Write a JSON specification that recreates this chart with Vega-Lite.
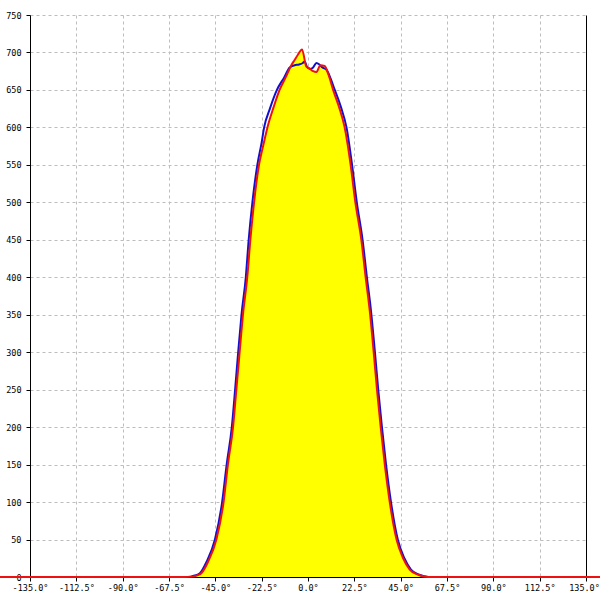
{
  "$schema": "https://vega.github.io/schema/vega-lite/v6.json",
  "width": 556,
  "height": 562,
  "autosize": {"type": "none"},
  "padding": {"left": 30, "top": 15, "right": 14, "bottom": 23},
  "background": "white",
  "config": {
    "view": {"stroke": null},
    "axis": {
      "labelFont": "DejaVu Sans Mono",
      "labelFontSize": 8.5,
      "labelColor": "#000000",
      "domainColor": "#000000",
      "tickColor": "#000000",
      "tickSize": 4,
      "gridColor": "#bdbdbd",
      "gridDash": [3, 3],
      "gridWidth": 1,
      "title": null
    }
  },
  "datasets": {
    "red": [
      {"deg": -150, "v": 0}, {"deg": -135, "v": 0}, {"deg": -60, "v": 0}, {"deg": -56, "v": 0.5},
      {"deg": -54, "v": 2}, {"deg": -51.8, "v": 5}, {"deg": -48.6, "v": 20}, {"deg": -44.5, "v": 50},
      {"deg": -41.0, "v": 100}, {"deg": -38.9, "v": 150}, {"deg": -36.4, "v": 200}, {"deg": -34.8, "v": 250},
      {"deg": -33.2, "v": 300}, {"deg": -31.6, "v": 350}, {"deg": -29.5, "v": 400}, {"deg": -28.0, "v": 450},
      {"deg": -26.2, "v": 500}, {"deg": -23.8, "v": 550}, {"deg": -21.9, "v": 574}, {"deg": -19.7, "v": 600},
      {"deg": -16.7, "v": 627}, {"deg": -13.8, "v": 650}, {"deg": -10.8, "v": 667}, {"deg": -8.1, "v": 683},
      {"deg": -6.5, "v": 690}, {"deg": -4.9, "v": 697}, {"deg": -2.9, "v": 704}, {"deg": -0.8, "v": 681},
      {"deg": 0.5, "v": 679}, {"deg": 2.5, "v": 675}, {"deg": 4.1, "v": 674}, {"deg": 6.0, "v": 683},
      {"deg": 8.1, "v": 682}, {"deg": 10.0, "v": 670}, {"deg": 12.2, "v": 650}, {"deg": 15.1, "v": 627},
      {"deg": 17.8, "v": 600}, {"deg": 20.7, "v": 550}, {"deg": 23.0, "v": 500}, {"deg": 25.9, "v": 450},
      {"deg": 28.0, "v": 400}, {"deg": 30.0, "v": 355}, {"deg": 31.9, "v": 300}, {"deg": 33.5, "v": 250},
      {"deg": 35.3, "v": 200}, {"deg": 37.3, "v": 150}, {"deg": 39.7, "v": 100}, {"deg": 43.0, "v": 50},
      {"deg": 46.2, "v": 25}, {"deg": 49.4, "v": 10}, {"deg": 53.5, "v": 3}, {"deg": 58.2, "v": 0},
      {"deg": 135, "v": 0}, {"deg": 150, "v": 0}
    ],
    "blue": [
      {"deg": -135, "v": 0}, {"deg": -60, "v": 0}, {"deg": -57, "v": 0.5}, {"deg": -55, "v": 2},
      {"deg": -52.5, "v": 5}, {"deg": -49.3, "v": 20}, {"deg": -45.2, "v": 50}, {"deg": -41.7, "v": 100},
      {"deg": -39.5, "v": 150}, {"deg": -37.0, "v": 200}, {"deg": -35.4, "v": 250}, {"deg": -33.9, "v": 300},
      {"deg": -32.3, "v": 350}, {"deg": -30.2, "v": 400}, {"deg": -28.8, "v": 450}, {"deg": -27.0, "v": 500},
      {"deg": -24.6, "v": 550}, {"deg": -22.5, "v": 580}, {"deg": -21.3, "v": 600}, {"deg": -18.5, "v": 625},
      {"deg": -15.1, "v": 650}, {"deg": -11.5, "v": 667}, {"deg": -8.9, "v": 680}, {"deg": -6.5, "v": 683},
      {"deg": -4.3, "v": 684}, {"deg": -2.5, "v": 686}, {"deg": -1.6, "v": 688}, {"deg": -0.5, "v": 681},
      {"deg": 1.0, "v": 678}, {"deg": 2.5, "v": 680}, {"deg": 4.1, "v": 686}, {"deg": 5.5, "v": 684},
      {"deg": 7.0, "v": 680}, {"deg": 9.0, "v": 677}, {"deg": 11.0, "v": 665}, {"deg": 13.0, "v": 650},
      {"deg": 16.0, "v": 627}, {"deg": 18.7, "v": 600}, {"deg": 21.4, "v": 550}, {"deg": 23.7, "v": 500},
      {"deg": 26.5, "v": 450}, {"deg": 28.6, "v": 400}, {"deg": 30.6, "v": 355}, {"deg": 32.5, "v": 300},
      {"deg": 34.1, "v": 250}, {"deg": 35.9, "v": 200}, {"deg": 37.9, "v": 150}, {"deg": 40.3, "v": 100},
      {"deg": 43.6, "v": 50}, {"deg": 46.8, "v": 25}, {"deg": 50.0, "v": 10}, {"deg": 54.0, "v": 3},
      {"deg": 58.5, "v": 0}, {"deg": 135, "v": 0}
    ]
  },
  "encoding": {
    "x": {
      "field": "deg",
      "type": "quantitative",
      "scale": {"domain": [-135, 135], "nice": false, "zero": false},
      "axis": {
        "values": [-135, -112.5, -90, -67.5, -45, -22.5, 0, 22.5, 45, 67.5, 90, 112.5, 135],
        "labelExpr": "(datum.value < 0 ? '-' : '') + format(abs(datum.value), '.1f') + '°'",
        "labelPadding": 2,
        "labelOverlap": false,
        "labelFlush": false,
        "labelOffset": {"condition": {"test": "datum.value === 135", "value": -2}, "value": 0},
        "gridDash": {"condition": {"test": "datum.value === 135", "value": []}, "value": [3, 3]},
        "gridColor": {"condition": {"test": "datum.value === 135", "value": "#000000"}, "value": "#bdbdbd"}
      }
    },
    "y": {
      "field": "v",
      "type": "quantitative",
      "scale": {"domain": [0, 750], "nice": false},
      "axis": {
        "values": [0, 50, 100, 150, 200, 250, 300, 350, 400, 450, 500, 550, 600, 650, 700, 750],
        "labelPadding": 5,
        "labelOverlap": false,
        "labelFlush": false
      }
    }
  },
  "layer": [
    {
      "data": {"name": "red"},
      "mark": {"type": "area", "color": "#ffff00", "clip": false, "interpolate": "monotone"}
    },
    {
      "data": {"name": "blue"},
      "mark": {"type": "line", "color": "#1010cc", "strokeWidth": 2, "clip": false, "interpolate": "monotone"}
    },
    {
      "data": {"name": "red"},
      "mark": {"type": "line", "color": "#ee1111", "strokeWidth": 2, "clip": false, "interpolate": "monotone"}
    }
  ]
}
